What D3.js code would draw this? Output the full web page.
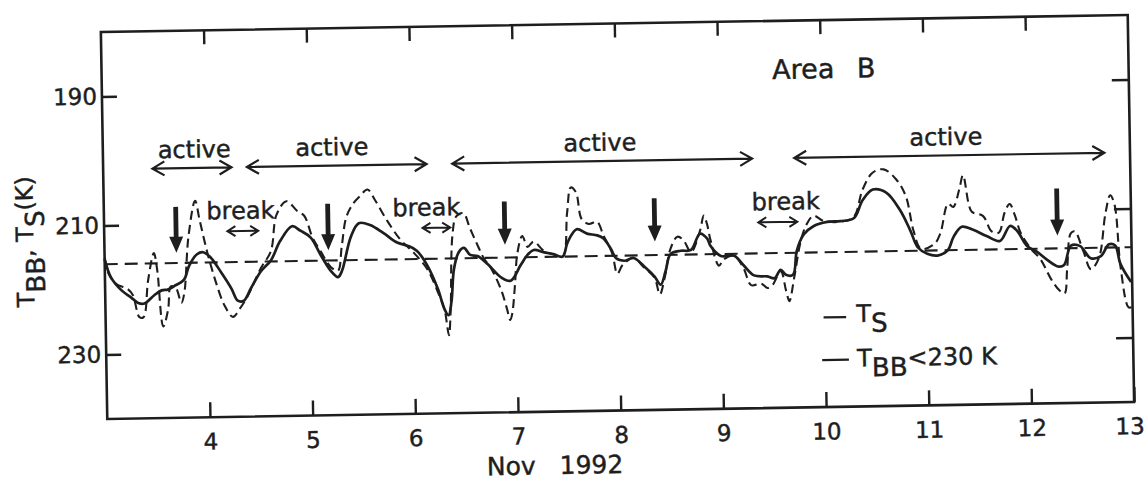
<!DOCTYPE html>
<html>
<head>
<meta charset="utf-8">
<script src="https://cdn.jsdelivr.net/npm/d3@7"></script>
<style>
  body { margin: 0; background: #fff; }
  svg { display: block; font-family: "DejaVu Sans", sans-serif; }
  svg text { stroke: #1e1e1e; stroke-width: 0.45px; }
</style>
</head>
<body>
<svg id="chart"></svg>
<script>
// T_BB < 230K (solid line), [day of Nov 1992, K]
var tbb = [
  [3.00,215.2],[3.06,218.1],[3.16,220.1],[3.25,221.2],[3.32,222.1],[3.38,222.2],[3.48,220.9],[3.55,220.2],
  [3.61,220.1],[3.67,219.6],[3.77,218.6],[3.82,216.5],[3.90,214.7],[3.96,214.4],[4.03,215.2],[4.13,217.5],
  [4.23,220.1],[4.29,222.0],[4.35,222.0],[4.42,220.1],[4.52,217.5],[4.62,215.8],[4.71,212.9],[4.83,210.6],
  [4.91,211.3],[5.01,212.4],[5.10,215.0],[5.20,217.6],[5.27,218.6],[5.31,217.6],[5.40,212.4],[5.48,210.3],
  [5.59,210.6],[5.72,211.9],[5.85,213.4],[5.95,213.9],[6.04,214.7],[6.14,217.0],[6.24,220.7],[6.30,223.8],
  [6.34,224.8],[6.37,222.7],[6.40,217.6],[6.45,215.0],[6.50,214.4],[6.56,215.5],[6.63,215.7],[6.73,217.0],
  [6.86,219.1],[6.95,219.6],[7.05,217.2],[7.12,215.6],[7.18,214.9],[7.28,215.3],[7.37,215.6],[7.46,216.0],
  [7.51,213.8],[7.60,211.8],[7.70,212.5],[7.80,212.8],[7.86,213.3],[7.93,214.9],[7.98,216.4],[8.06,216.8],
  [8.15,216.4],[8.25,217.7],[8.35,219.3],[8.41,220.6],[8.46,218.5],[8.51,215.9],[8.61,215.4],[8.71,215.3],
  [8.80,212.8],[8.87,213.6],[8.90,214.7],[9.00,216.3],[9.13,216.3],[9.22,217.8],[9.32,219.4],[9.45,219.6],
  [9.52,219.9],[9.58,218.6],[9.63,219.4],[9.70,219.4],[9.74,215.7],[9.81,213.2],[9.91,211.9],[10.04,211.3],
  [10.17,211.2],[10.30,210.8],[10.39,208.0],[10.49,206.4],[10.62,206.9],[10.75,209.6],[10.85,212.9],[10.92,215.5],
  [11.01,216.5],[11.11,216.8],[11.21,216.0],[11.27,213.9],[11.35,212.4],[11.46,212.9],[11.59,213.9],[11.72,214.7],
  [11.82,212.4],[11.89,213.2],[11.98,215.5],[12.08,216.5],[12.18,217.8],[12.28,218.8],[12.34,218.6],[12.41,215.6],
  [12.50,215.7],[12.60,217.6],[12.70,217.3],[12.78,215.5],[12.84,215.7],[12.89,218.6],[12.99,221.4]
];

// T_S (dashed line)
var ts = [
  [3.00,215.0],[3.04,217.6],[3.11,219.1],[3.22,219.9],[3.27,220.9],[3.33,224.3],[3.37,224.3],[3.42,218.6],
  [3.48,214.4],[3.51,217.0],[3.56,225.8],[3.61,223.2],[3.64,219.6],[3.69,219.9],[3.74,222.2],[3.77,220.7],
  [3.82,211.9],[3.89,206.4],[3.93,209.3],[4.00,214.4],[4.08,219.1],[4.16,222.7],[4.24,224.5],[4.31,223.2],
  [4.39,221.2],[4.52,217.0],[4.62,214.4],[4.68,208.8],[4.78,206.7],[4.88,208.2],[4.95,209.0],[5.03,212.5],
  [5.10,214.4],[5.20,217.0],[5.27,217.6],[5.31,213.9],[5.36,209.3],[5.43,207.2],[5.49,206.2],[5.57,205.1],
  [5.64,206.7],[5.75,209.8],[5.88,212.9],[6.01,215.0],[6.14,217.6],[6.24,221.2],[6.30,223.8],[6.34,227.9],
  [6.36,224.3],[6.39,212.4],[6.43,209.5],[6.50,209.0],[6.56,211.3],[6.63,213.9],[6.69,216.0],[6.76,217.6],
  [6.86,221.2],[6.91,224.0],[6.94,225.7],[6.96,224.7],[6.99,220.4],[7.02,215.3],[7.07,212.7],[7.12,214.4],
  [7.18,213.6],[7.28,215.1],[7.37,215.6],[7.46,216.0],[7.51,209.2],[7.55,205.3],[7.60,206.1],[7.65,210.2],
  [7.72,211.0],[7.80,210.7],[7.86,212.8],[7.94,215.5],[7.99,218.8],[8.04,217.5],[8.15,216.4],[8.25,217.9],
  [8.35,219.5],[8.40,222.1],[8.45,219.5],[8.51,215.1],[8.58,213.2],[8.64,213.8],[8.71,215.6],[8.80,212.4],
  [8.84,210.0],[8.87,211.3],[8.90,213.7],[8.98,217.8],[9.03,216.8],[9.13,216.3],[9.22,218.3],[9.29,220.9],
  [9.39,220.7],[9.45,221.4],[9.50,220.9],[9.58,218.8],[9.63,221.9],[9.66,223.5],[9.71,219.9],[9.78,214.2],
  [9.84,211.6],[9.91,210.3],[10.00,211.1],[10.17,211.3],[10.30,210.6],[10.39,206.4],[10.49,203.8],[10.60,203.3],
  [10.72,204.9],[10.81,207.5],[10.88,212.9],[10.95,215.7],[11.08,215.0],[11.14,213.4],[11.22,208.8],[11.27,209.3],
  [11.33,206.7],[11.37,204.4],[11.42,208.8],[11.45,210.1],[11.56,210.8],[11.64,213.2],[11.71,213.4],[11.77,210.3],
  [11.82,209.0],[11.87,210.8],[11.92,213.4],[12.02,216.0],[12.11,217.6],[12.21,220.7],[12.29,222.5],[12.34,223.0],
  [12.37,219.1],[12.41,213.7],[12.45,213.4],[12.53,216.5],[12.60,219.3],[12.68,217.6],[12.75,210.8],[12.80,207.9],
  [12.84,209.3],[12.89,219.1],[12.96,225.3],[12.99,225.3]
];

var refLevel = 216;
var dayTicks = [4, 5, 6, 7, 8, 9, 10, 11, 12, 13];
var tempTicks = [190, 210, 230];

// annotations, in days / K
var activeSpans = [[3.48, 4.25], [4.40, 6.15], [6.40, 9.32], [9.73, 12.75]];
var activeText = [3.89, 5.23, 7.84, 11.21];
var activeArrowK = 201.3, activeTextK = 199.7;
var breakSpans = [[4.20, 4.50], [6.10, 6.37], [9.37, 9.75]];
var breakText = [4.33, 6.14, 9.64];
var breakArrowK = 211.2, breakTextK = 209.3;
// bold down arrows: [day, top K, tip K]
var drops = [[3.70, 207.3, 214.4], [5.18, 207.2, 214.4], [6.90, 207.3, 214.0], [8.36, 207.2, 213.9], [12.28, 206.7, 214.0]];

var width = 1145, height = 482;
var plotL = 104, plotR = 1131, plotT = 23.5, plotB = 410.5;
var ink = "#1e1e1e";

var x = d3.scaleLinear().domain([3, 13]).range([plotL, plotR]);
var y = d3.scaleLinear().domain([180, 240]).range([plotT, plotB]);

var svg = d3.select("#chart")
    .attr("width", width)
    .attr("height", height);

svg.append("rect").attr("width", width).attr("height", height).attr("fill", "#fff");

// the scanned figure sits slightly tilted
var g = svg.append("g")
    .attr("transform", "rotate(-0.95," + (plotL + plotR) / 2 + "," + (plotT + plotB) / 2 + ")");

// axes with inward ticks
var xb = g.append("g")
    .attr("transform", "translate(0," + plotB + ")")
    .call(d3.axisBottom(x).tickValues(dayTicks).tickSize(-15).tickSizeOuter(0).tickPadding(16).tickFormat(d3.format("d")));
var xt = g.append("g")
    .attr("transform", "translate(0," + plotT + ")")
    .call(d3.axisTop(x).tickValues(dayTicks.slice(0, -1)).tickSize(-14).tickSizeOuter(0).tickFormat(""));
var yl = g.append("g")
    .attr("transform", "translate(" + plotL + ",0)")
    .call(d3.axisLeft(y).tickValues(tempTicks).tickSize(-15).tickSizeOuter(0).tickPadding(5));
var yr = g.append("g")
    .attr("transform", "translate(" + plotR + ",0)")
    .call(d3.axisRight(y).tickValues(tempTicks).tickSize(-17).tickSizeOuter(0).tickFormat(""));

[xb, xt, yl, yr].forEach(function(a) {
  a.select(".domain").remove();
  a.selectAll(".tick line").attr("stroke", ink).attr("stroke-width", 2.4);
  a.selectAll(".tick text").attr("fill", ink).attr("font-size", 23).attr("font-family", "DejaVu Sans, sans-serif");
});
// keep the last day label inside the page, as in the scan
xb.selectAll(".tick text").filter(function(d) { return d === 13; }).attr("dx", -5);

// frame
g.append("rect")
    .attr("x", plotL).attr("y", plotT)
    .attr("width", plotR - plotL).attr("height", plotB - plotT)
    .attr("fill", "none").attr("stroke", ink).attr("stroke-width", 2.6);

// reference level
g.append("line")
    .attr("x1", x(3)).attr("x2", x(13))
    .attr("y1", y(refLevel)).attr("y2", y(refLevel))
    .attr("stroke", ink).attr("stroke-width", 2.1)
    .attr("stroke-dasharray", "13,7");

var line = d3.line()
    .x(function(d) { return x(d[0]); })
    .y(function(d) { return y(d[1]); })
    .curve(d3.curveCatmullRom.alpha(0.5));

g.append("path").datum(ts)
    .attr("d", line)
    .attr("fill", "none").attr("stroke", ink).attr("stroke-width", 2.1)
    .attr("stroke-dasharray", "9,5");

g.append("path").datum(tbb)
    .attr("d", line)
    .attr("fill", "none").attr("stroke", ink).attr("stroke-width", 2.7)
    .attr("stroke-linejoin", "round");

// double arrows
function doubleArrow(x1, x2, yy, a, b) {
  return "M" + x1 + "," + yy + "L" + x2 + "," + yy +
         "M" + (x1 + a) + "," + (yy - b) + "L" + x1 + "," + yy + "L" + (x1 + a) + "," + (yy + b) +
         "M" + (x2 - a) + "," + (yy - b) + "L" + x2 + "," + yy + "L" + (x2 - a) + "," + (yy + b);
}

g.selectAll(".active-arrow")
    .data(activeSpans)
    .enter().append("path")
      .attr("d", function(d) { return doubleArrow(x(d[0]), x(d[1]), y(activeArrowK), 12, 7); })
      .attr("fill", "none").attr("stroke", ink).attr("stroke-width", 2.2);

g.selectAll(".active-text")
    .data(activeText)
    .enter().append("text")
      .attr("x", function(d) { return x(d); })
      .attr("y", y(activeTextK))
      .attr("text-anchor", "middle")
      .attr("font-size", 24).attr("fill", ink)
      .text("active");

g.selectAll(".break-arrow")
    .data(breakSpans)
    .enter().append("path")
      .attr("d", function(d) { return doubleArrow(x(d[0]), x(d[1]), y(breakArrowK), 8, 5); })
      .attr("fill", "none").attr("stroke", ink).attr("stroke-width", 2);

g.selectAll(".break-text")
    .data(breakText)
    .enter().append("text")
      .attr("x", function(d) { return x(d); })
      .attr("y", y(breakTextK))
      .attr("text-anchor", "middle")
      .attr("font-size", 24).attr("fill", ink)
      .text("break");

// bold downward arrows
g.selectAll(".drop")
    .data(drops)
    .enter().append("path")
      .attr("d", function(d) {
        var cx = x(d[0]), y0 = y(d[1]), y1 = y(d[2]), hw = 7, hh = 16, sw = 2.4;
        return "M" + (cx - sw) + "," + y0 + "L" + (cx + sw) + "," + y0 +
               "L" + (cx + sw) + "," + (y1 - hh) + "L" + (cx + hw) + "," + (y1 - hh) +
               "L" + cx + "," + y1 + "L" + (cx - hw) + "," + (y1 - hh) +
               "L" + (cx - sw) + "," + (y1 - hh) + "Z";
      })
      .attr("fill", ink);

// title
g.append("text")
    .attr("x", x(9.53)).attr("y", y(189.0))
    .attr("font-size", 27).attr("fill", ink)
    .attr("word-spacing", 14)
    .text("Area B");

// legend
var legendRows = [
  { from: 9.99, to: 10.21, k: 226.1, textK: 226.9, main: "T", sub: "S", rest: "" },
  { from: 9.97, to: 10.23, k: 232.7, textK: 233.8, main: "T", sub: "BB", rest: "<230 K" }
];
legendRows.forEach(function(r) {
  g.append("line")
      .attr("x1", x(r.from)).attr("x2", x(r.to))
      .attr("y1", y(r.k)).attr("y2", y(r.k))
      .attr("stroke", ink).attr("stroke-width", 2.2);
  var t = g.append("text")
      .attr("x", x(10.31)).attr("y", y(r.textK))
      .attr("font-size", 24).attr("fill", ink);
  t.append("tspan").text(r.main);
  t.append("tspan").attr("dy", 10).attr("font-size", 26).text(r.sub);
  if (r.rest) t.append("tspan").attr("dy", -10).text(r.rest);
});

// axis titles
var ylab = g.append("text")
    .attr("transform", "translate(33," + 232 + ") rotate(-90)")
    .attr("text-anchor", "middle")
    .attr("font-size", 24).attr("fill", ink);
ylab.append("tspan").text("T");
ylab.append("tspan").attr("dy", 11).attr("font-size", 26).text("BB");
ylab.append("tspan").attr("dy", -11).text(", T");
ylab.append("tspan").attr("dy", 11).attr("font-size", 26).text("S");
ylab.append("tspan").attr("dy", -11).text("(K)");

g.append("text")
    .attr("x", 551).attr("y", 473)
    .attr("text-anchor", "middle")
    .attr("font-size", 25).attr("fill", ink)
    .attr("word-spacing", 16)
    .text("Nov 1992");
</script>
</body>
</html>
